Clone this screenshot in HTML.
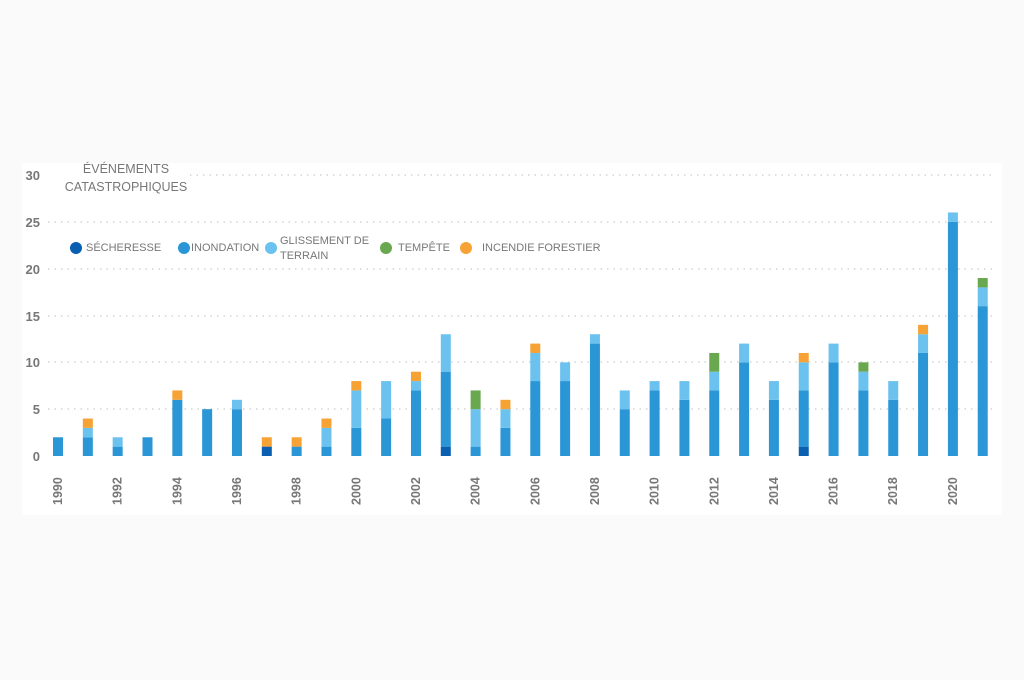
<!DOCTYPE html>
<html><head><meta charset="utf-8"><style>
html,body{margin:0;padding:0;background:#fafafa;}
svg{display:block;font-family:"Liberation Sans",sans-serif;}
</style></head><body>
<svg width="1024" height="680" viewBox="0 0 1024 680" xmlns="http://www.w3.org/2000/svg">
<rect x="0" y="0" width="1024" height="680" fill="#fafafa"/>
<rect x="22" y="163" width="980" height="352" fill="#ffffff"/>
<g id="grid" stroke="#d4d4d4" stroke-width="1.5" stroke-dasharray="1.5,5">
<line x1="190" y1="175" x2="995" y2="175"/>
<line x1="48" y1="222" x2="995" y2="222"/>
<line x1="48" y1="269" x2="995" y2="269"/>
<line x1="48" y1="316" x2="995" y2="316"/>
<line x1="48" y1="362" x2="995" y2="362"/>
<line x1="48" y1="409" x2="995" y2="409"/>
</g>
<g fill="#777" font-size="13" font-weight="bold" text-anchor="end">
<text x="40" y="180">30</text><text x="40" y="227">25</text><text x="40" y="274">20</text>
<text x="40" y="321">15</text><text x="40" y="367">10</text><text x="40" y="414">5</text><text x="40" y="461">0</text>
</g>
<g fill="#777" font-size="12.5" text-anchor="middle">
<text x="126" y="173">ÉVÉNEMENTS</text><text x="126" y="191">CATASTROPHIQUES</text>
</g>
<g font-size="11" fill="#777">
<circle cx="76" cy="248" r="6" fill="#0a5fb0"/><text x="86" y="251">SÉCHERESSE</text>
<circle cx="184" cy="248" r="6" fill="#2b96d6"/><text x="191" y="251">INONDATION</text>
<circle cx="271" cy="248" r="6" fill="#6cc2ee"/><text x="280" y="244">GLISSEMENT DE</text><text x="280" y="259">TERRAIN</text>
<circle cx="386" cy="248" r="6" fill="#6aa84f"/><text x="398" y="251">TEMPÊTE</text>
<circle cx="466" cy="248" r="6" fill="#f7a234"/><text x="482" y="251">INCENDIE FORESTIER</text>
</g>
<g id="bars"></g>
<g id="xl" fill="#777" font-size="12.5" font-weight="bold"></g>
<script>
var d=[[0,2,0,0,0],[0,2,1,0,1],[0,1,1,0,0],[0,2,0,0,0],[0,6,0,0,1],[0,5,0,0,0],[0,5,1,0,0],[1,0,0,0,1],[0,1,0,0,1],[0,1,2,0,1],[0,3,4,0,1],[0,4,4,0,0],[0,7,1,0,1],[1,8,4,0,0],[0,1,4,2,0],[0,3,2,0,1],[0,8,3,0,1],[0,8,2,0,0],[0,12,1,0,0],[0,5,2,0,0],[0,7,1,0,0],[0,6,2,0,0],[0,7,2,2,0],[0,10,2,0,0],[0,6,2,0,0],[1,6,3,0,1],[0,10,2,0,0],[0,7,2,1,0],[0,6,2,0,0],[0,11,2,0,1],[0,25,1,0,0],[0,16,2,1,0]];
var c=["#0a5fb0","#2b96d6","#6cc2ee","#6aa84f","#f7a234"];
var ns="http://www.w3.org/2000/svg",b=document.getElementById("bars"),xl=document.getElementById("xl");
var u=281/30;
d.forEach(function(r,i){var x=58+i*29.83-5,y=456;
r.forEach(function(v,k){if(!v)return;var h=v*u;y-=h;var e=document.createElementNS(ns,"rect");
e.setAttribute("x",x);e.setAttribute("y",y);e.setAttribute("width",10);e.setAttribute("height",h);e.setAttribute("fill",c[k]);b.appendChild(e);});
if(i%2==0){var t=document.createElementNS(ns,"text");var tx=58+i*29.83+4;
t.setAttribute("transform","translate("+tx+",505) rotate(-90)");t.textContent=1990+i;xl.appendChild(t);}});
</script>
</svg>
</body></html>
